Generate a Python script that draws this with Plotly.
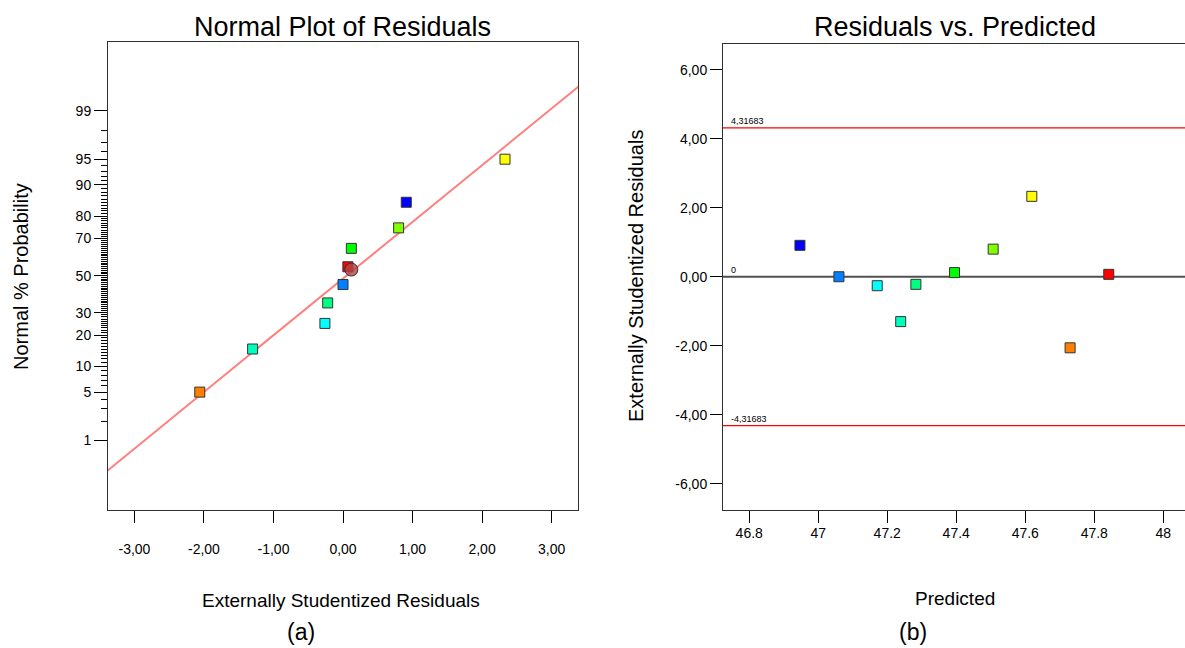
import plotly.graph_objects as go
from statistics import NormalDist

# ---------------- data ----------------
point_colors = ["#0000FF", "#0080FF", "#00FFFF", "#00FFBF", "#00FF80",
                "#00FF00", "#80FF00", "#FFFF00", "#FF8000", "#FF0000"]
predicted = [46.947, 47.060, 47.171, 47.239, 47.283, 47.395, 47.507, 47.619, 47.730, 47.842]
residuals = [0.91, 0.00, -0.26, -1.30, -0.22, 0.12, 0.80, 2.33, -2.06, 0.07]
normal_prob = [85, 45, 25, 15, 35, 65, 75, 95, 5, 55]

center_resid = [0.12]
center_prob = [53.4]

fit_mean = 0.052
fit_sd = 1.249
limit_value = 4.31683

prob_ticks = [1, 5, 10, 20, 30, 50, 70, 80, 90, 95, 99]
resid_ticks = [-3, -2, -1, 0, 1, 2, 3]
resid_ticktext = ["-3,00", "-2,00", "-1,00", "0,00", "1,00", "2,00", "3,00"]
ext_ticks = [-6, -4, -2, 0, 2, 4, 6]
ext_ticktext = ["-6,00", "-4,00", "-2,00", "0,00", "2,00", "4,00", "6,00"]
pred_ticks = [46.8, 47.0, 47.2, 47.4, 47.6, 47.8, 48.0]
pred_ticktext = ["46.8", "47", "47.2", "47.4", "47.6", "47.8", "48"]

# ---------------- helpers ----------------
nd = NormalDist()
def probit(p):
    return nd.inv_cdf(p / 100.0)

FONT = "Arial, Liberation Sans, sans-serif"
W, H = 1185, 648
def px_x(v):
    return v / W
def px_y(v):
    return 1 - v / H

xr1 = [-3.38, 3.38]
yr1 = [-3.31, 3.30]
xr2 = [46.724, 48.063]
yr2 = [-6.76, 6.745]

fig = go.Figure()

# ---- left: normal plot ----
line_x = [xr1[0] - 0.5, xr1[1] + 0.5]
fig.add_trace(go.Scatter(
    x=line_x, y=[(v - fit_mean) / fit_sd for v in line_x],
    mode="lines", line=dict(color="#FF7F7F", width=2),
    xaxis="x", yaxis="y", hoverinfo="skip", showlegend=False))

fig.add_trace(go.Scatter(
    x=residuals, y=[probit(p) for p in normal_prob], mode="markers",
    marker=dict(symbol="square", size=10, color=point_colors,
                line=dict(color="#333333", width=1)),
    xaxis="x", yaxis="y", showlegend=False))

fig.add_trace(go.Scatter(
    x=center_resid, y=[probit(p) for p in center_prob], mode="markers",
    marker=dict(symbol="circle", size=13, color="rgba(175,70,70,0.8)",
                line=dict(color="#333333", width=1)),
    xaxis="x", yaxis="y", showlegend=False))

# ---- right: residuals vs predicted ----
fig.add_trace(go.Scatter(
    x=predicted, y=residuals, mode="markers",
    marker=dict(symbol="square", size=10, color=point_colors,
                line=dict(color="#333333", width=1)),
    xaxis="x2", yaxis="y2", showlegend=False))

minor_vals = [probit(p) for p in range(2, 99) if p not in prob_ticks]

axis_common = dict(showgrid=False, zeroline=False, ticks="outside",
                   tickcolor="#000000", tickwidth=1,
                   tickfont=dict(family=FONT, size=14, color="#000000"),
                   showline=True, linecolor="#303030", linewidth=1)

fig.update_layout(
    width=W, height=H,
    margin=dict(l=0, r=0, t=0, b=0),
    paper_bgcolor="white", plot_bgcolor="white",
    font=dict(family=FONT, color="#000000"),
    xaxis=dict(domain=[px_x(108), px_x(578)], range=xr1, anchor="y",
               tickmode="array", tickvals=resid_ticks, ticktext=resid_ticktext,
               ticklen=12, ticklabelstandoff=14, mirror=True, **axis_common),
    yaxis=dict(domain=[px_y(510), px_y(42)], range=yr1, anchor="x",
               tickmode="array", tickvals=[probit(p) for p in prob_ticks],
               ticktext=[str(p) for p in prob_ticks], ticklen=13, mirror=True,
               minor=dict(tickmode="array", tickvals=minor_vals, ticklen=6,
                          ticks="outside", tickcolor="#000000", tickwidth=1),
               **axis_common),
    xaxis2=dict(domain=[px_x(723), 1.0], range=xr2, anchor="y2",
                tickmode="array", tickvals=pred_ticks, ticktext=pred_ticktext,
                ticklen=12, ticklabelstandoff=-2, mirror=True, **axis_common),
    yaxis2=dict(domain=[px_y(510), px_y(44)], range=yr2, anchor="x2",
                tickmode="array", tickvals=ext_ticks, ticktext=ext_ticktext,
                ticklen=12, mirror=False, **axis_common),
)

# reference lines on right plot
fig.add_shape(type="line", xref="x2 domain", x0=0, x1=1, yref="y2", y0=0, y1=0,
              line=dict(color="#505050", width=2), layer="below")
for v in (limit_value, -limit_value):
    fig.add_shape(type="line", xref="x2 domain", x0=0, x1=1, yref="y2", y0=v, y1=v,
                  line=dict(color="#FF0000", width=1.3), layer="below")

def limit_label(v):
    return f"{v:.5f}".replace(".", ",")

annotations = [
    dict(text=limit_label(limit_value), xref="x2 domain", x=0.012, xanchor="left",
         yref="y2", y=limit_value, yanchor="bottom", yshift=0, showarrow=False,
         font=dict(family=FONT, size=9, color="#000000")),
    dict(text=limit_label(-limit_value), xref="x2 domain", x=0.012, xanchor="left",
         yref="y2", y=-limit_value, yanchor="bottom", yshift=0, showarrow=False,
         font=dict(family=FONT, size=9, color="#000000")),
    dict(text="0", xref="x2 domain", x=0.014, xanchor="left",
         yref="y2", y=0, yanchor="bottom", yshift=0, showarrow=False,
         font=dict(family=FONT, size=9, color="#000000")),
    # titles
    dict(text="Normal Plot of Residuals", xref="paper", x=px_x(342), xanchor="center",
         yref="paper", y=px_y(27), yanchor="middle", showarrow=False,
         font=dict(family=FONT, size=27, color="#000000")),
    dict(text="Residuals vs. Predicted", xref="paper", x=px_x(955), xanchor="center",
         yref="paper", y=px_y(27), yanchor="middle", showarrow=False,
         font=dict(family=FONT, size=27, color="#000000")),
    # axis titles
    dict(text="Externally Studentized Residuals", xref="paper", x=px_x(341), xanchor="center",
         yref="paper", y=px_y(600), yanchor="middle", showarrow=False,
         font=dict(family=FONT, size=19, color="#000000")),
    dict(text="Predicted", xref="paper", x=px_x(955), xanchor="center",
         yref="paper", y=px_y(598), yanchor="middle", showarrow=False,
         font=dict(family=FONT, size=19, color="#000000")),
    dict(text="Normal % Probability", xref="paper", x=px_x(21), xanchor="center",
         yref="paper", y=px_y(277), yanchor="middle", showarrow=False, textangle=-90,
         font=dict(family=FONT, size=20, color="#000000")),
    dict(text="Externally Studentized Residuals", xref="paper", x=px_x(636), xanchor="center",
         yref="paper", y=px_y(276), yanchor="middle", showarrow=False, textangle=-90,
         font=dict(family=FONT, size=20, color="#000000")),
    # panel labels
    dict(text="(a)", xref="paper", x=px_x(301), xanchor="center",
         yref="paper", y=px_y(632), yanchor="middle", showarrow=False,
         font=dict(family=FONT, size=23, color="#000000")),
    dict(text="(b)", xref="paper", x=px_x(913), xanchor="center",
         yref="paper", y=px_y(632), yanchor="middle", showarrow=False,
         font=dict(family=FONT, size=23, color="#000000")),
]
fig.update_layout(annotations=annotations)

fig.write_html("out.html", config={"displayModeBar": False},
               post_script="document.body.style.margin='0px';document.body.style.overflow='hidden';")
